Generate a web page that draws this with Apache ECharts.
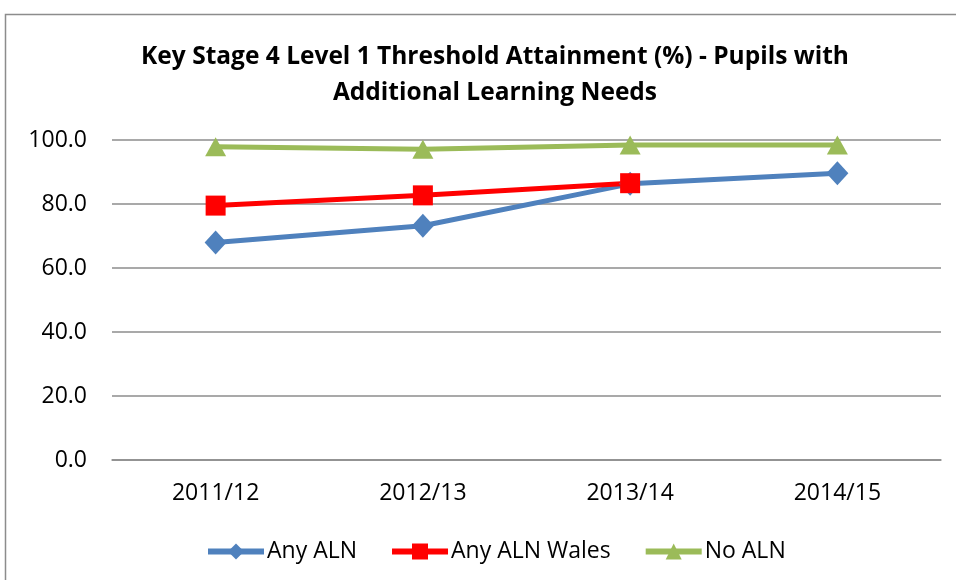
<!DOCTYPE html>
<html>
<head>
<meta charset="utf-8">
<script src="https://cdn.jsdelivr.net/npm/echarts@6/dist/echarts.min.js"></script>
<style>
  html, body { margin: 0; padding: 0; background: #fff; }
  #chart { width: 956px; height: 580px; }
</style>
</head>
<body>
<div id="chart"></div>
<script>
// Key Stage 4 Level 1 threshold attainment by year
const years = ['2011/12', '2012/13', '2013/14', '2014/15'];
const anyAln = [68.0, 73.2, 86.3, 89.6];
const anyAlnWales = [79.5, 82.7, 86.5, null];
const noAln = [97.9, 97.1, 98.4, 98.4];
const yTicks = { min: 0, max: 100, interval: 20 };

const font = '"Open Sans", "Noto Sans", sans-serif';

const chart = echarts.init(document.getElementById('chart'), null, { renderer: 'canvas' });

function lineSeries(name, data, color, symbol, size) {
  return {
    name: name,
    type: 'line',
    data: data,
    symbol: symbol,
    symbolSize: size,
    showAllSymbol: true,
    connectNulls: false,
    lineStyle: { color: color, width: 5 },
    itemStyle: { color: color },
    emphasis: { disabled: true },
    z: 3
  };
}

chart.setOption({
  animation: false,
  backgroundColor: '#ffffff',
  graphic: [{
    type: 'rect',
    shape: { x: 5.5, y: 14.5, width: 1200, height: 1200 },
    style: { fill: 'none', stroke: '#8c8c8c', lineWidth: 1.5 },
    silent: true
  }],
  title: {
    text: 'Key Stage 4 Level 1 Threshold Attainment (%) - Pupils with\nAdditional Learning Needs',
    left: 490,
    textAlign: 'center',
    top: 34,
    textStyle: {
      fontFamily: font,
      fontWeight: 'bold',
      fontSize: 24.5,
      lineHeight: 36,
      color: '#000'
    }
  },
  legend: {
    top: 535,
    left: 200,
    itemWidth: 56,
    itemHeight: 20,
    itemGap: 32,
    lineStyle: { width: 6 },
    textStyle: { fontFamily: font, fontSize: 23, color: '#000', padding: [0, 0, 0, -2] },
    data: ['Any ALN', 'Any ALN Wales', 'No ALN']
  },
  grid: {
    left: 112,
    right: 15,
    top: 140,
    bottom: 120,
    containLabel: false
  },
  xAxis: {
    type: 'category',
    data: years,
    boundaryGap: true,
    axisLine: { show: true, lineStyle: { color: '#8c8c8c', width: 1.5 } },
    axisTick: { show: false },
    axisLabel: {
      fontFamily: font,
      fontSize: 23,
      color: '#000',
      margin: 22
    }
  },
  yAxis: {
    type: 'value',
    min: yTicks.min,
    max: yTicks.max,
    interval: yTicks.interval,
    axisLine: { show: false },
    axisTick: { show: false },
    splitLine: { lineStyle: { color: '#8c8c8c', width: 1.5 } },
    axisLabel: {
      fontFamily: font,
      fontSize: 23,
      color: '#000',
      margin: 25,
      formatter: v => v.toFixed(1)
    }
  },
  series: [
    lineSeries('Any ALN', anyAln, '#4f81bd', 'diamond', [22, 24]),
    lineSeries('Any ALN Wales', anyAlnWales, '#ff0000', 'rect', 20),
    lineSeries('No ALN', noAln, '#9bbb59', 'triangle', [21, 19])
  ]
});
</script>
</body>
</html>
